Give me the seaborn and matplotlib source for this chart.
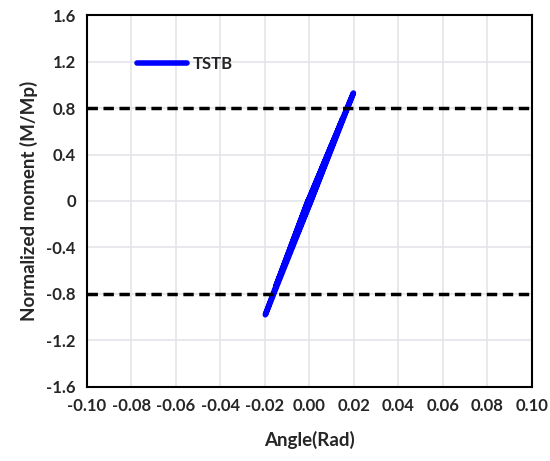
import numpy as np
import pandas as pd
import matplotlib
matplotlib.use("Agg")
import matplotlib.pyplot as plt
import seaborn as sns

# datos del ensayo (ciclos de carga)
angulo = [0.0, 0.00375, 0.0002, -0.00375, -0.0002, 0.005, 0.0003, -0.005, -0.0003,
          0.0075, 0.0004, -0.0075, -0.0004, 0.01, 0.0005, -0.01, -0.0005,
          0.015, 0.0006, -0.015, -0.0006, 0.0198, 0.0007, -0.0198, -0.0007, 0.0]
momento = [0.0, 0.18, 0.0, -0.18, 0.0, 0.24, 0.0, -0.25, 0.0,
           0.36, 0.0, -0.37, 0.0, 0.48, 0.0, -0.49, 0.0,
           0.71, 0.0, -0.73, 0.0, 0.93, 0.0, -0.98, 0.0, 0.0]

x_ticks = [-0.10, -0.08, -0.06, -0.04, -0.02, 0.00, 0.02, 0.04, 0.06, 0.08, 0.10]
y_ticks = [-1.6, -1.2, -0.8, -0.4, 0, 0.4, 0.8, 1.2, 1.6]
y_labels = ['-1.6', '-1.2', '-0.8', '-0.4', '0', '0.4', '0.8', '1.2', '1.6']
limite = [0.8, -0.8]

df = pd.DataFrame({'Angle': angulo, 'Moment': momento})

sns.set_style("whitegrid")
plt.rcParams['font.family'] = ['Lato', 'DejaVu Sans']

fig = plt.figure(figsize=(5.5, 4.61), dpi=100)
ax = fig.add_axes([0.158, 0.161, 0.809, 0.806])

sns.lineplot(data=df, x='Angle', y='Moment', sort=False, estimator=None,
             color='#0000ff', linewidth=4, label='TSTB', ax=ax,
             solid_capstyle='round')

for y in limite:
    ax.axhline(y, color='black', linestyle=(0, (3, 1.6)), linewidth=2.5)

ax.set_xlim(-0.10, 0.10)
ax.set_ylim(-1.6, 1.6)
ax.set_xticks(x_ticks)
ax.set_xticklabels([f'{v:.2f}' for v in x_ticks], fontsize=12, fontweight='bold')
ax.set_yticks(y_ticks)
ax.set_yticklabels(y_labels, fontsize=12, fontweight='bold')
ax.tick_params(length=0, pad=8)
ax.grid(True, color='#e3e5ea', linewidth=1.2)

for s in ax.spines.values():
    s.set_color('black')
    s.set_linewidth(1.5)

ax.set_xlabel('Angle(Rad)', fontsize=13.5, fontweight='bold', labelpad=12)
ax.set_ylabel('Normalized moment (M/Mp)', fontsize=13.5, fontweight='bold', labelpad=6)

leg = ax.legend(loc='upper left', bbox_to_anchor=(0.08, 0.93), frameon=False,
                handlelength=3.0, handletextpad=0.3, prop={'weight': 'bold', 'size': 12})

fig.savefig('out.png', dpi=100)
